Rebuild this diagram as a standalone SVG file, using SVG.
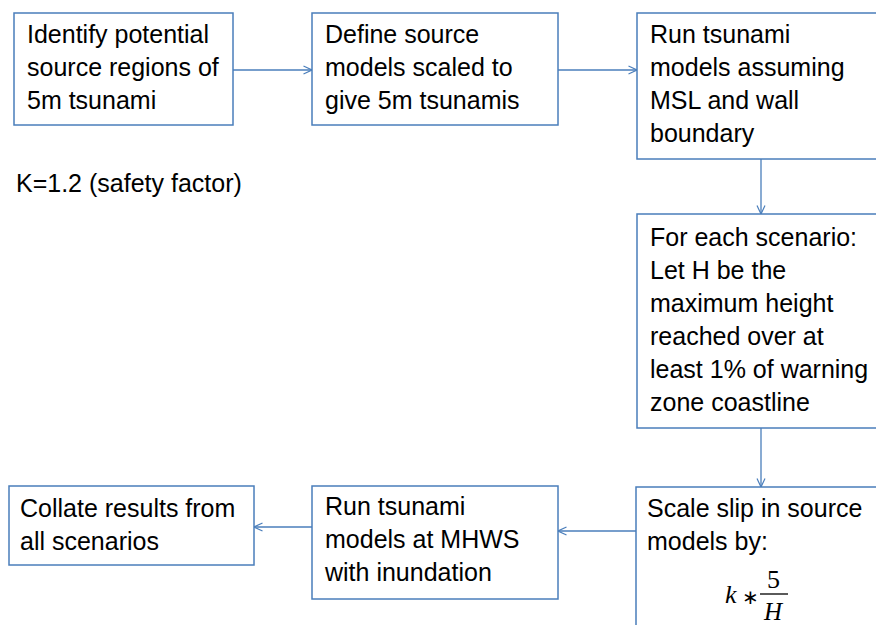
<svg xmlns="http://www.w3.org/2000/svg" width="876" height="625" viewBox="0 0 876 625">
<defs>
<style>
.box{fill:#fff;stroke:#4a7ebb;stroke-width:1.5}
.t{font-family:"Liberation Sans",Arial,sans-serif;font-size:25px;fill:#000}
.m{font-family:"Liberation Serif","Times New Roman",serif;fill:#000}
.i{font-style:italic}
.c{stroke:#4a7ebb;stroke-width:1.3;fill:none}
</style>
<marker id="ah" viewBox="0 0 10 10" refX="9.5" refY="5" markerWidth="10" markerHeight="10" markerUnits="userSpaceOnUse" orient="auto">
<path d="M1,1 L9.5,5 L1,9" fill="none" stroke="#4a7ebb" stroke-width="1.2"/>
</marker>
</defs>
<rect width="876" height="625" fill="#fff"/>
<g id="connectors">
<line class="c" x1="233" y1="70" x2="312" y2="70" marker-end="url(#ah)"/>
<line class="c" x1="558" y1="70" x2="637" y2="70" marker-end="url(#ah)"/>
<line class="c" x1="761" y1="159" x2="761" y2="214" marker-end="url(#ah)"/>
<line class="c" x1="761" y1="428" x2="761" y2="487" marker-end="url(#ah)"/>
<line class="c" x1="636" y1="531" x2="558" y2="531" marker-end="url(#ah)"/>
<line class="c" x1="312" y1="527" x2="254" y2="527" marker-end="url(#ah)"/>
</g>
<g id="n1">
<rect class="box" x="14" y="13" width="219" height="112"/>
<text class="t" x="27" y="43">Identify potential</text>
<text class="t" x="27" y="76">source regions of</text>
<text class="t" x="27" y="109">5m tsunami</text>
</g>
<g id="n2">
<rect class="box" x="312" y="13" width="246" height="112"/>
<text class="t" x="325" y="43">Define source</text>
<text class="t" x="325" y="76">models scaled to</text>
<text class="t" x="325" y="109">give 5m tsunamis</text>
</g>
<g id="n3">
<rect class="box" x="637" y="13" width="260" height="146"/>
<text class="t" x="650" y="43">Run tsunami</text>
<text class="t" x="650" y="76">models assuming</text>
<text class="t" x="650" y="109">MSL and wall</text>
<text class="t" x="650" y="142">boundary</text>
</g>
<g id="n4">
<rect class="box" x="637" y="214" width="260" height="214"/>
<text class="t" x="650" y="246">For each scenario:</text>
<text class="t" x="650" y="279">Let H be the</text>
<text class="t" x="650" y="312">maximum height</text>
<text class="t" x="650" y="345">reached over at</text>
<text class="t" x="650" y="378">least 1% of warning</text>
<text class="t" x="650" y="411">zone coastline</text>
</g>
<g id="n5">
<rect class="box" x="636" y="487" width="260" height="160"/>
<text class="t" x="647" y="517">Scale slip in source</text>
<text class="t" x="647" y="550">models by:</text>
<text class="m i" x="725" y="603" font-size="26">k</text>
<text class="m" x="742" y="604" font-size="20">∗</text>
<text class="m" x="767" y="588" font-size="26">5</text>
<line x1="760" y1="594" x2="788" y2="594" stroke="#000" stroke-width="1.3"/>
<text class="m i" x="764" y="620" font-size="25">H</text>
</g>
<g id="n6">
<rect class="box" x="312" y="486" width="246" height="113"/>
<text class="t" x="325" y="515">Run tsunami</text>
<text class="t" x="325" y="548">models at MHWS</text>
<text class="t" x="325" y="581">with inundation</text>
</g>
<g id="n7">
<rect class="box" x="9" y="486" width="245" height="79"/>
<text class="t" x="20" y="517">Collate results from</text>
<text class="t" x="20" y="550">all scenarios</text>
</g>
<g id="note">
<text class="t" x="16" y="192" font-size="22">K=1.2 (safety factor)</text>
</g>
</svg>
